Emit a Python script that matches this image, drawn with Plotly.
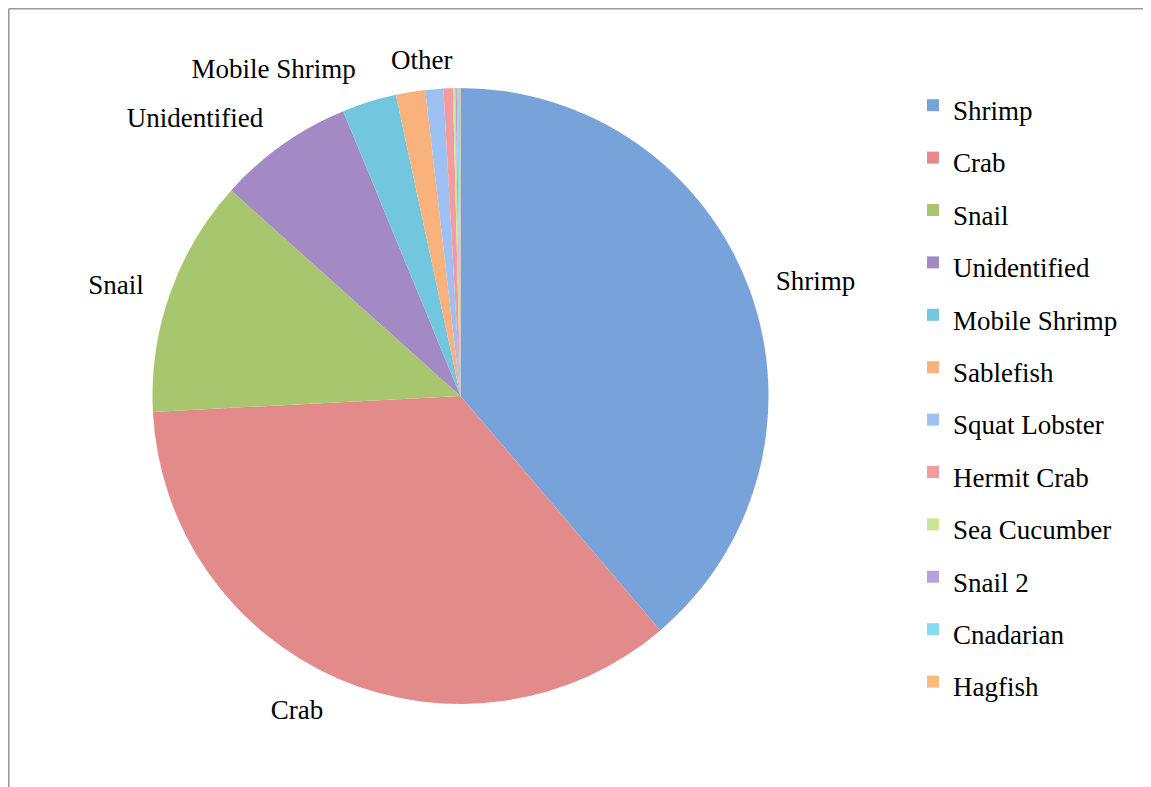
import math
import plotly.graph_objects as go

categories = ["Shrimp", "Crab", "Snail", "Unidentified", "Mobile Shrimp", "Sablefish",
              "Squat Lobster", "Hermit Crab", "Sea Cucumber", "Snail 2", "Cnadarian", "Hagfish"]
values = [38.75, 35.4, 12.45, 7.15, 2.85, 1.54, 0.94, 0.49, 0.13, 0.075, 0.1, 0.09]
colors = ["#78a2da", "#e38a8a", "#a8c66e", "#a38ac4", "#72c6de", "#f9b27c",
          "#9fc0f2", "#f49b9b", "#c9e596", "#b9a0dc", "#86dcee", "#f9bb7c"]
# slice labels: the five largest groups named, the rest grouped as "Other"
n_named = 5
label_names = categories[:n_named] + ["Other"]
label_values = values[:n_named] + [sum(values[n_named:])]

# page offset (body margin) so positions are given in screen pixels
OFF = 8
W, H = 1151 - OFF, 787 - OFF

def fx(sx):
    return (sx - OFF) / W

def fy(sy):
    return (H - (sy - OFF)) / H

cx, cy, rad = 460.5, 396, 308
lab_rad = rad + 20

font_family = "Liberation Serif"
legend_names = ['<span style="font-size:27px">%s</span>' % c for c in categories]

main_pie = go.Pie(
    labels=legend_names,
    values=values,
    textinfo="none",
    sort=False,
    direction="clockwise",
    rotation=0,
    marker=dict(colors=colors, line=dict(width=0)),
    domain=dict(x=[fx(cx - rad), fx(cx + rad)], y=[fy(cy + rad), fy(cy - rad)]),
    hoverinfo="label+percent",
)

label_pie = go.Pie(
    labels=label_names,
    values=label_values,
    texttemplate="%{label}",
    textposition=["outside"] * n_named + ["none"],
    textfont=dict(family=font_family, size=27, color="black"),
    sort=False,
    direction="clockwise",
    rotation=0,
    marker=dict(colors=["rgba(0,0,0,0)"] * len(label_names), line=dict(width=0)),
    domain=dict(x=[fx(cx - lab_rad), fx(cx + lab_rad)], y=[fy(cy + lab_rad), fy(cy - lab_rad)]),
    showlegend=False,
    hoverinfo="skip",
)

# "Other" label centred above the middle of the grouped small slices
total = sum(label_values)
other_mid = 2 * math.pi * (sum(label_values[:-1]) + label_values[-1] / 2) / total
other_r = rad + 30
other_x = cx + other_r * math.sin(other_mid)
other_y = cy - other_r * math.cos(other_mid)

fig = go.Figure([label_pie, main_pie])

fig.update_layout(
    width=W, height=H,
    margin=dict(l=0, r=0, t=0, b=0),
    paper_bgcolor="white",
    plot_bgcolor="white",
    font=dict(family=font_family, color="black"),
    showlegend=True,
    legend=dict(
        x=fx(913), xanchor="left",
        y=fy(74), yanchor="top",
        maxheight=740,
        font=dict(family=font_family, size=38, color="black"),
        bgcolor="rgba(0,0,0,0)",
    ),
    annotations=[
        dict(text=label_names[-1], xref="paper", yref="paper",
             x=fx(other_x - 3), y=fy(other_y), xanchor="center", yanchor="middle",
             showarrow=False, font=dict(family=font_family, size=27, color="black")),
    ],
    shapes=[
        dict(type="line", xref="paper", yref="paper",
             x0=fx(OFF + 0.8), x1=fx(1160), y0=fy(OFF + 0.8), y1=fy(OFF + 0.8),
             line=dict(color="#9a9a9a", width=1.6)),
        dict(type="line", xref="paper", yref="paper",
             x0=fx(OFF + 0.8), x1=fx(OFF + 0.8), y0=fy(OFF + 0.8), y1=fy(800),
             line=dict(color="#9a9a9a", width=1.6)),
    ],
)

fig.write_html("out.html")
